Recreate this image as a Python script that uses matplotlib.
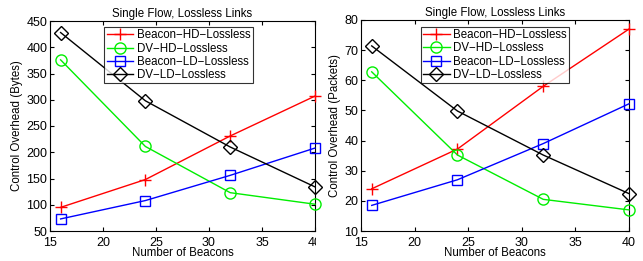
import matplotlib
matplotlib.use("Agg")
import matplotlib.pyplot as plt
from matplotlib.patches import Rectangle

plt.rcParams['font.family'] = ['Liberation Sans', 'DejaVu Sans']

beacons = [16, 24, 32, 40]
series_names = ["Beacon\u2212HD\u2212Lossless", "DV\u2212HD\u2212Lossless",
                "Beacon\u2212LD\u2212Lossless", "DV\u2212LD\u2212Lossless"]
bytes_beacon_hd = [95, 148, 231, 307]
bytes_dv_hd = [376, 211, 123, 101]
bytes_beacon_ld = [73, 108, 156, 208]
bytes_dv_ld = [428, 298, 210, 134]
pkts_beacon_hd = [24.0, 37.2, 58.0, 77.0]
pkts_dv_hd = [62.8, 35.2, 20.5, 17.0]
pkts_beacon_ld = [18.5, 27.0, 39.0, 52.2]
pkts_dv_ld = [71.4, 49.8, 35.2, 22.4]

styles = [dict(color='red', marker='+', ms=9, mew=1.0),
          dict(color='#00ee00', marker='o', ms=8, mfc='none', mew=1.0),
          dict(color='blue', marker='s', ms=6.5, mfc='none', mew=1.0),
          dict(color='black', marker='D', ms=7, mfc='none', mew=1.0)]

fig = plt.figure(figsize=(6.43, 2.61), dpi=100)
ax1 = fig.add_axes([50/643, 1-231/261, 265/643, 210/261])
ax2 = fig.add_axes([361/643, 1-231/261, 268/643, 211/261])

def draw(ax, data, ylim, yticks, ylabel, legx, legy):
    for name, vals, st in zip(series_names, data, styles):
        ax.plot(beacons, vals, lw=1.0, label=name, clip_on=False, zorder=3, **st)
    ax.set_xlim(15, 40)
    ax.set_ylim(*ylim)
    ax.set_xticks([15, 20, 25, 30, 35, 40])
    ax.set_yticks(yticks)
    ax.tick_params(direction='in', labelsize=9, length=3, top=True, right=True)
    ax.tick_params(axis='x', pad=4)
    ax.tick_params(axis='y', pad=2)
    ax.set_title("Single Flow, Lossless Links", fontsize=8.3, pad=3)
    ax.set_xlabel("Number of Beacons", fontsize=8.3, labelpad=-1)
    ax.set_ylabel(ylabel, fontsize=8.3, labelpad=2)
    leg = ax.legend(loc='upper center', bbox_to_anchor=(legx, legy), fontsize=8.3,
                    frameon=True, fancybox=False, edgecolor='black', handlelength=2.3,
                    borderpad=0.2, labelspacing=0.1, handletextpad=0.3, borderaxespad=0)
    leg.get_frame().set_linewidth(0.8)
    leg.set_zorder(5)

draw(ax1, [bytes_beacon_hd, bytes_dv_hd, bytes_beacon_ld, bytes_dv_ld],
     (50, 450), range(50, 451, 50), "Control Overhead (Bytes)", 0.485, 0.971)
draw(ax2, [pkts_beacon_hd, pkts_dv_hd, pkts_beacon_ld, pkts_dv_ld],
     (10, 80), range(10, 81, 10), "Control Overhead (Packets)", 0.5, 0.967)

# left panel's last tick label is cut at the panel edge in the reference
fig.patches.append(Rectangle((316/643, 0), 10/643, 28/261, transform=fig.transFigure,
                             facecolor='white', edgecolor='none', zorder=10))

fig.savefig("out.png", dpi=100)
